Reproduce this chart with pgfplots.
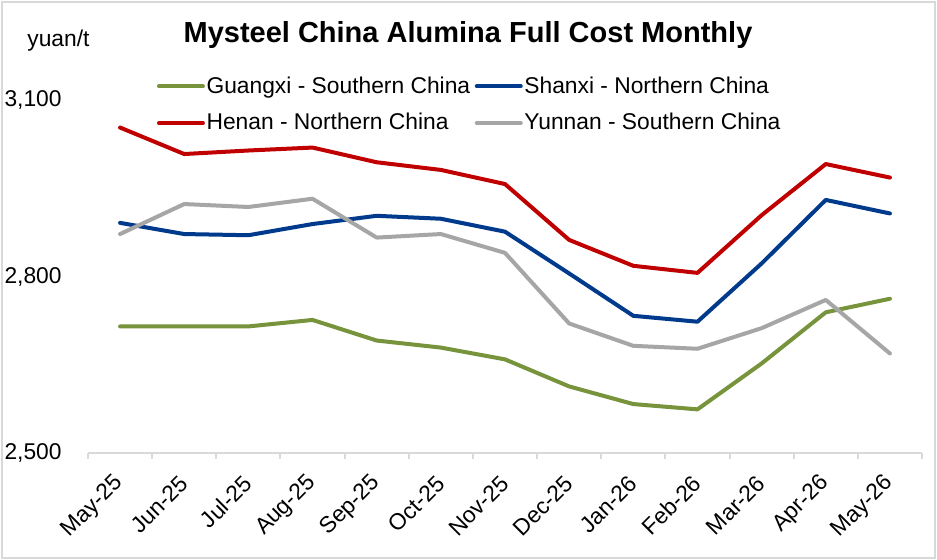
\documentclass[border=0pt]{standalone}
\usepackage{pgfplots}
\pgfplotsset{compat=1.18}
\usepackage{fontspec}
\setmainfont{Liberation Sans}
\definecolor{cgreen}{RGB}{119,147,60}
\definecolor{cblue}{RGB}{0,58,140}
\definecolor{cred}{RGB}{192,0,0}
\definecolor{cgray}{RGB}{166,166,166}
\definecolor{cframe}{RGB}{217,217,217}
\begin{document}
\begin{tikzpicture}
\path[fill=white] (0,0) rectangle (468.5pt,280pt);
\draw[cframe, line width=1pt] (1pt,1pt) rectangle (467.5pt,279pt);
\node[anchor=base, font=\fontsize{14.5}{17}\selectfont\bfseries] at (234pt,258.5pt) {Mysteel China Alumina Full Cost Monthly};
\node[anchor=base west, inner sep=0pt, font=\fontsize{11.4}{13}\selectfont] at (13.5pt,256.5pt) {yuan/t};
\begin{axis}[
  at={(44pt,53.25pt)}, anchor=south west,
  scale only axis, width=417pt, height=176.5pt,
  xmin=-0.5, xmax=12.5, ymin=2500, ymax=3100,
  axis x line*=bottom, axis y line*=left,
  x axis line style={cframe, line width=1pt, -},
  y axis line style={draw=none, -},
  xtick={0,...,12},
  xticklabels={May-25,Jun-25,Jul-25,Aug-25,Sep-25,Oct-25,Nov-25,Dec-25,Jan-26,Feb-26,Mar-26,Apr-26,May-26},
  major tick length=0pt,
  major x tick style={draw=none},
  minor xtick={-0.5,0.5,...,12.5},
  minor x tick style={cframe, line width=1pt},
  minor tick length=3pt,
  tick align=outside,
  ytick={2500,2800,3100},
  major y tick style={draw=none},
  /pgf/number format/.cd, 1000 sep={,}, assume math mode=true,
  /pgfplots/.cd,
  ticklabel style={font=\fontsize{11.4}{13}\selectfont},
  yticklabel style={anchor=east, inner sep=0pt, xshift=-13pt},
  xticklabel style={yshift=-13pt, rotate=45, anchor=east, inner sep=0pt},
  every axis plot/.append style={line width=2pt, line join=round, line cap=round},
  legend columns=2,
  legend style={at={(0.075,1.085)}, anchor=north west, draw=none, fill=none,
    font=\fontsize{11.4}{13}\selectfont, row sep=7pt, nodes={inner sep=0.8pt},
    /tikz/every even column/.append style={column sep=1.5pt}},
  legend image code/.code={\draw[#1] (0pt,0pt) -- (22pt,0pt);},
  legend cell align=left,
]
\addplot[cgreen] coordinates {(0,2716)(1,2716)(2,2716)(3,2727)(4,2692)(5,2680)(6,2660)(7,2614)(8,2584)(9,2575)(10,2653)(11,2740)(12,2763)};
\addlegendentry{Guangxi - Southern China}
\addplot[cblue] coordinates {(0,2892)(1,2873)(2,2871)(3,2890)(4,2904)(5,2899)(6,2877)(7,2806)(8,2734)(9,2724)(10,2823)(11,2931)(12,2908)};
\addlegendentry{Shanxi - Northern China}
\addplot[cred] coordinates {(0,3054)(1,3009)(2,3015)(3,3020)(4,2995)(5,2982)(6,2958)(7,2863)(8,2819)(9,2807)(10,2905)(11,2992)(12,2969)};
\addlegendentry{Henan - Northern China}
\addplot[cgray] coordinates {(0,2873)(1,2924)(2,2919)(3,2933)(4,2867)(5,2873)(6,2841)(7,2721)(8,2683)(9,2678)(10,2713)(11,2761)(12,2670)};
\addlegendentry{Yunnan - Southern China}
\end{axis}
\pgfresetboundingbox
\useasboundingbox (0,0) rectangle (468.5pt,280pt);
\end{tikzpicture}
\end{document}
